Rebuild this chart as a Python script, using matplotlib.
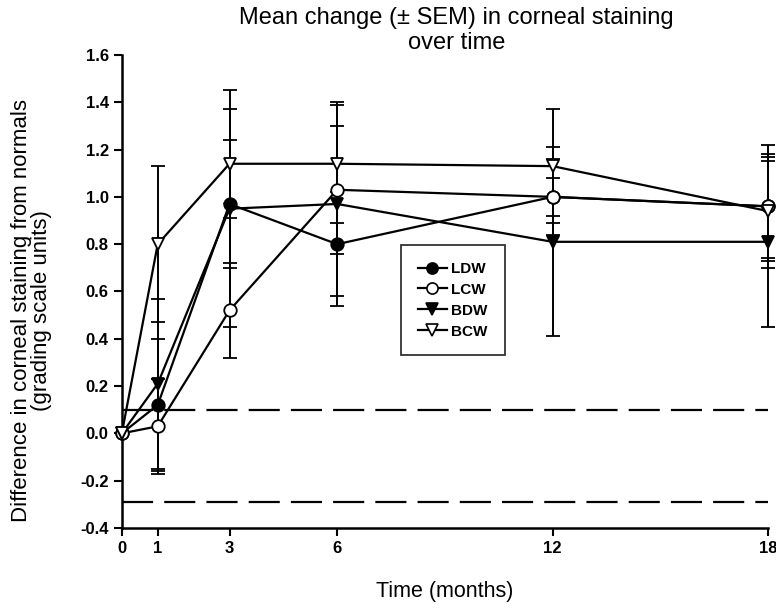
import matplotlib
matplotlib.use("Agg")
import matplotlib.pyplot as plt
from matplotlib.lines import Line2D

months = [0, 1, 3, 6, 12, 18]

ldw = [0.0, 0.12, 0.97, 0.80, 1.00, 0.96]
lcw = [0.0, 0.03, 0.52, 1.03, 1.00, 0.96]
bdw = [0.0, 0.21, 0.95, 0.97, 0.81, 0.81]
bcw = [0.0, 0.80, 1.14, 1.14, 1.13, 0.94]

ldw_sem = [0.0, 0.28, 0.27, 0.22, 0.16, 0.26]
lcw_sem = [0.0, 0.20, 0.20, 0.27, 0.08, 0.22]
bdw_sem = [0.0, 0.36, 0.50, 0.43, 0.40, 0.36]
bcw_sem = [0.0, 0.33, 0.23, 0.25, 0.24, 0.21]

upper_limit = 0.10
lower_limit = -0.29

yticks = [-0.4, -0.2, 0.0, 0.2, 0.4, 0.6, 0.8, 1.0, 1.2, 1.4, 1.6]


def main():
    plt.rcParams['font.family'] = ['Liberation Sans', 'DejaVu Sans']

    fig = plt.figure(figsize=(7.76, 6.08), dpi=100)
    ax = fig.add_axes([0.157, 0.1316, 0.8325, 0.778])

    # limits of normals
    for lvl in (upper_limit, lower_limit):
        ax.plot([0, 18], [lvl, lvl], color='black', lw=1.6,
                dashes=(14, 5), zorder=1)

    series = [
        ("LDW", ldw, ldw_sem, 'o', 'black'),
        ("LCW", lcw, lcw_sem, 'o', 'white'),
        ("BDW", bdw, bdw_sem, 'v', 'black'),
        ("BCW", bcw, bcw_sem, 'v', 'white'),
    ]
    handles = []
    for name, vals, sem, mk, fc in series:
        ax.errorbar(months, vals, yerr=sem, color='black', lw=1.6,
                    elinewidth=1.4, capsize=5, capthick=1.4,
                    marker=mk, markersize=9, markerfacecolor=fc,
                    markeredgecolor='black', markeredgewidth=1.3,
                    clip_on=False, zorder=3)
        handles.append(Line2D([], [], color='black', lw=1.6, marker=mk,
                              markersize=8, markerfacecolor=fc,
                              markeredgecolor='black', markeredgewidth=1.2,
                              label=name))

    ax.set_xlim(0, 18)
    ax.set_ylim(-0.4, 1.6)
    ax.set_xticks(months)
    ax.set_yticks(yticks)
    ax.set_yticklabels([f"{v:.1f}" for v in yticks])
    ax.spines['top'].set_visible(False)
    ax.spines['right'].set_visible(False)
    ax.spines['left'].set_linewidth(1.8)
    ax.spines['bottom'].set_linewidth(1.8)
    ax.tick_params(direction='out', length=6, width=1.5, labelsize=12)
    for lab in ax.get_xticklabels() + ax.get_yticklabels():
        lab.set_fontweight('bold')

    ax.set_xlabel("Time (months)", fontsize=15.5)
    ax.xaxis.set_label_coords(0.5, -0.112)
    ax.set_ylabel("Difference in corneal staining from normals\n(grading scale units)",
                  fontsize=16, linespacing=0.95)
    ax.yaxis.set_label_coords(-0.108, 0.46)
    fig.text(0.588, 0.988, "Mean change (\u00b1 SEM) in corneal staining\nover time",
             ha='center', va='top', fontsize=17, linespacing=1.15)

    leg = ax.legend(handles=handles, loc='upper left',
                    bbox_to_anchor=(0.432, 0.598),
                    frameon=True, fancybox=False, edgecolor='black',
                    handlelength=1.9, handletextpad=0.3, borderpad=1.1,
                    borderaxespad=0, labelspacing=0.45,
                    prop={'size': 11, 'weight': 'bold'})
    leg.get_frame().set_linewidth(1.3)

    fig.savefig("out.png", dpi=100)


if __name__ == "__main__":
    main()
